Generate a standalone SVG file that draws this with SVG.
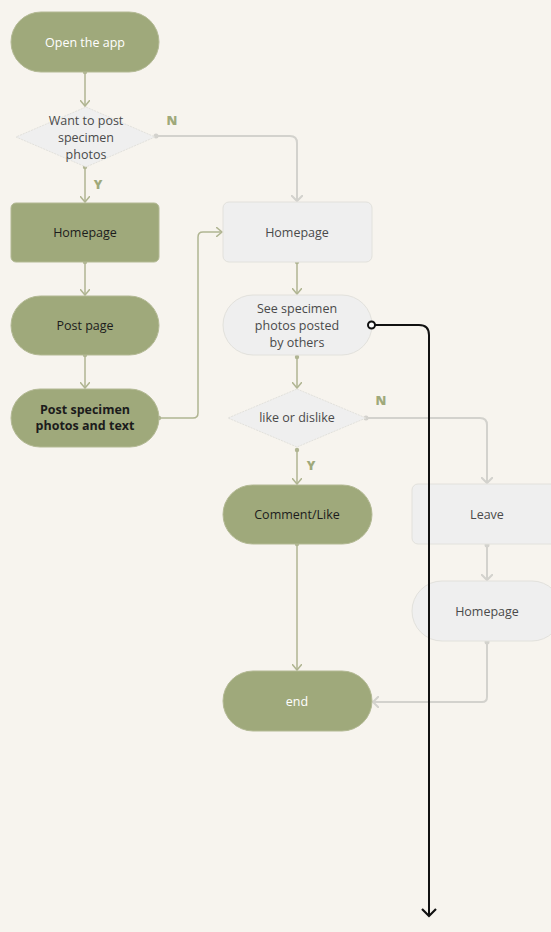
<svg xmlns="http://www.w3.org/2000/svg" width="551" height="932" viewBox="0 0 551 932">
  <defs>
    <style>
      .bg { fill: #f7f4ee; }
      .green { fill: #9fa97b; stroke: #b3b994; stroke-width: 1; }
      .light { fill: #efefef; stroke: #e2e1dc; stroke-width: 1; }
      .t { font-family: "Open Sans", "Liberation Sans", sans-serif; font-size: 12.5px; text-anchor: middle; dominant-baseline: central; }
      .tw { fill: #ffffff; }
      .tk { fill: #1c1c1c; }
      .tg { fill: #4a4a4a; }
      .tb { font-weight: bold; }
      .lab { font-family: "Open Sans", "Liberation Sans", sans-serif; font-size: 13px; font-weight: 800; fill: #9fa97b; text-anchor: middle; dominant-baseline: central; }
      .cg { fill: none; stroke: #b0b592; stroke-width: 1.5; }
      .cl { fill: none; stroke: #d3d2cd; stroke-width: 2; }
      .ck { fill: none; stroke: #111111; stroke-width: 2; }
    </style>
    <marker id="ahG" markerWidth="14" markerHeight="10" refX="6" refY="5" orient="auto" markerUnits="userSpaceOnUse">
      <path d="M0,0 L6,5 L0,10" fill="none" stroke="#b0b592" stroke-width="1.5"/>
    </marker>
    <marker id="ahL" markerWidth="14" markerHeight="12" refX="6" refY="6" orient="auto" markerUnits="userSpaceOnUse">
      <path d="M0,0 L6,6 L0,12" fill="none" stroke="#d3d2cd" stroke-width="2"/>
    </marker>
    <marker id="ahK" markerWidth="16" markerHeight="16" refX="8" refY="8" orient="auto" markerUnits="userSpaceOnUse">
      <path d="M1,1 L8,8 L1,15" fill="none" stroke="#111111" stroke-width="2.2"/>
    </marker>
  </defs>

  <rect class="bg" x="0" y="0" width="551" height="932"/>

  <!-- flow connectors -->
  <g id="connectors">
    <!-- left column -->
    <path class="cg" d="M85,72 V106" marker-end="url(#ahG)"/>
    <circle cx="85" cy="72" r="2.2" fill="#b0b592"/>
    <path class="cg" d="M85,167 V202" marker-end="url(#ahG)"/>
    <circle cx="85" cy="167" r="2.2" fill="#b0b592"/>
    <path class="cl" d="M156,136 H290 Q297,136 297,143 V201" marker-end="url(#ahL)"/>
    <circle cx="156" cy="136" r="2.5" fill="#d3d2cd"/>
    <path class="cg" d="M85,262 V295" marker-end="url(#ahG)"/>
    <circle cx="85" cy="262" r="2.2" fill="#b0b592"/>
    <path class="cg" d="M85,355 V388" marker-end="url(#ahG)"/>
    <circle cx="85" cy="355" r="2.2" fill="#b0b592"/>
    <path class="cg" d="M159,418 H193 Q198,418 198,413 V237 Q198,232 203,232 H222" marker-end="url(#ahG)"/>
    <circle cx="159" cy="418" r="2.2" fill="#b0b592"/>

    <!-- middle column -->
    <path class="cg" d="M297,262 V294" marker-end="url(#ahG)"/>
    <circle cx="297" cy="262" r="2.2" fill="#b0b592"/>
    <path class="cg" d="M297,357 V388" marker-end="url(#ahG)"/>
    <circle cx="297" cy="357" r="2.2" fill="#b0b592"/>
    <path class="cg" d="M297,450 V484" marker-end="url(#ahG)"/>
    <circle cx="297" cy="450" r="2.2" fill="#b0b592"/>
    <path class="cl" d="M366,418 H480 Q487,418 487,425 V483" marker-end="url(#ahL)"/>
    <circle cx="366" cy="418" r="2.5" fill="#d3d2cd"/>
    <path class="cg" d="M297,544 V670" marker-end="url(#ahG)"/>
    <circle cx="297" cy="544" r="2.2" fill="#b0b592"/>

    <!-- right column -->
    <path class="cl" d="M487,545 V580" marker-end="url(#ahL)"/>
    <circle cx="487" cy="545" r="2.5" fill="#d3d2cd"/>
    <path class="cl" d="M487,642 V697 Q487,702 482,702 H373" marker-end="url(#ahL)"/>
    <circle cx="487" cy="642" r="2.5" fill="#d3d2cd"/>

    <!-- branch labels -->
    <text class="lab" x="172" y="120">N</text>
    <text class="lab" x="98" y="184">Y</text>
    <text class="lab" x="381" y="400">N</text>
    <text class="lab" x="311" y="465">Y</text>
  </g>

  <!-- nodes -->
  <g id="open-app">
    <rect class="green" x="11" y="12" width="148" height="60" rx="30"/>
    <text class="t tw" x="85" y="42">Open the app</text>
  </g>

  <g id="want-to-post">
    <polygon class="light" points="86,107 155,137 86,167 16,137" stroke-dasharray="2 1"/>
    <text class="t tg" x="86" y="120">Want to post</text>
    <text class="t tg" x="86" y="137">specimen</text>
    <text class="t tg" x="86" y="154">photos</text>
  </g>

  <g id="homepage-left">
    <rect class="green" x="11" y="203" width="148" height="59" rx="5"/>
    <text class="t tk" x="85" y="232">Homepage</text>
  </g>

  <g id="post-page">
    <rect class="green" x="11" y="296" width="148" height="59" rx="29.5"/>
    <text class="t tk" x="85" y="325">Post page</text>
  </g>

  <g id="post-specimen">
    <rect class="green" x="11" y="389" width="148" height="58" rx="29"/>
    <text class="t tk tb" x="85" y="409">Post specimen</text>
    <text class="t tk tb" x="85" y="425">photos and text</text>
  </g>

  <g id="homepage-mid">
    <rect class="light" x="223" y="202" width="149" height="60" rx="6"/>
    <text class="t tg" x="297" y="232">Homepage</text>
  </g>

  <g id="see-specimen">
    <rect class="light" x="223" y="295" width="149" height="60" rx="30"/>
    <text class="t tg" x="297" y="308">See specimen</text>
    <text class="t tg" x="297" y="325">photos posted</text>
    <text class="t tg" x="297" y="342">by others</text>
  </g>

  <g id="like-or-dislike">
    <polygon class="light" points="297,389 366,418 297,447 228,418" stroke-dasharray="2 1"/>
    <text class="t tg" x="297" y="417">like or dislike</text>
  </g>

  <g id="comment-like">
    <rect class="green" x="223" y="485" width="149" height="59" rx="29.5"/>
    <text class="t tk" x="297" y="514">Comment/Like</text>
  </g>

  <g id="leave">
    <rect class="light" x="412" y="484" width="150" height="60" rx="6"/>
    <text class="t tg" x="487" y="514">Leave</text>
  </g>

  <g id="homepage-right">
    <rect class="light" x="412" y="581" width="150" height="60" rx="30"/>
    <text class="t tg" x="487" y="611">Homepage</text>
  </g>

  <g id="end">
    <rect class="green" x="223" y="671" width="149" height="60" rx="30"/>
    <text class="t tw" x="297" y="701">end</text>
  </g>

  <!-- long black connector, drawn over the nodes it crosses -->
  <g id="connector-overlay">
    <path class="ck" d="M375,325 H419 Q429,325 429,335 V916" marker-end="url(#ahK)"/>
    <circle cx="371.5" cy="325" r="3.5" fill="#ffffff" stroke="#111111" stroke-width="2"/>
  </g>
</svg>
